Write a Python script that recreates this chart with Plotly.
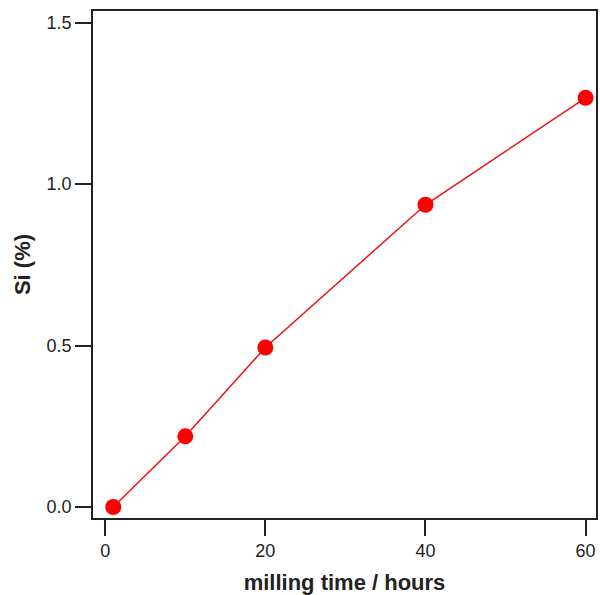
import plotly.graph_objects as go

milling_time = [1, 10, 20, 40, 60]
si_percent = [0.0, 0.219, 0.494, 0.936, 1.267]
x_ticks = [0, 20, 40, 60]
y_ticks = [0.0, 0.5, 1.0, 1.5]
y_tick_labels = ["0.0", "0.5", "1.0", "1.5"]

fig = go.Figure(go.Scatter(
    x=milling_time, y=si_percent, mode="lines+markers",
    line=dict(color="#ee1111", width=1.5),
    marker=dict(color="#ff0000", size=16),
))

fig.update_layout(
    width=600, height=595,
    margin=dict(l=93, r=2, t=11, b=77),
    plot_bgcolor="white", paper_bgcolor="white",
    showlegend=False,
    font=dict(family="Liberation Sans, Arial", color="#222"),
)
fig.update_xaxes(
    range=[-1.53, 61.3], tickvals=x_ticks, ticks="outside", ticklen=16, tickwidth=1.5,
    tickcolor="#222", showline=True, linecolor="#222", linewidth=1.5, mirror=True,
    showgrid=False, zeroline=False, tickfont=dict(size=18),
    title=dict(text="<b>milling time / hours</b>", font=dict(size=22), standoff=14),
)
fig.update_yaxes(
    range=[-0.034, 1.536], tickvals=y_ticks, ticktext=y_tick_labels, ticks="outside",
    ticklen=16, tickwidth=1.5, tickcolor="#222", showline=True, linecolor="#222",
    linewidth=1.5, mirror=True, showgrid=False, zeroline=False, tickfont=dict(size=18),
    title=dict(text="<b>Si (%)</b>", font=dict(size=22), standoff=10),
)

fig.write_html("out.html")
